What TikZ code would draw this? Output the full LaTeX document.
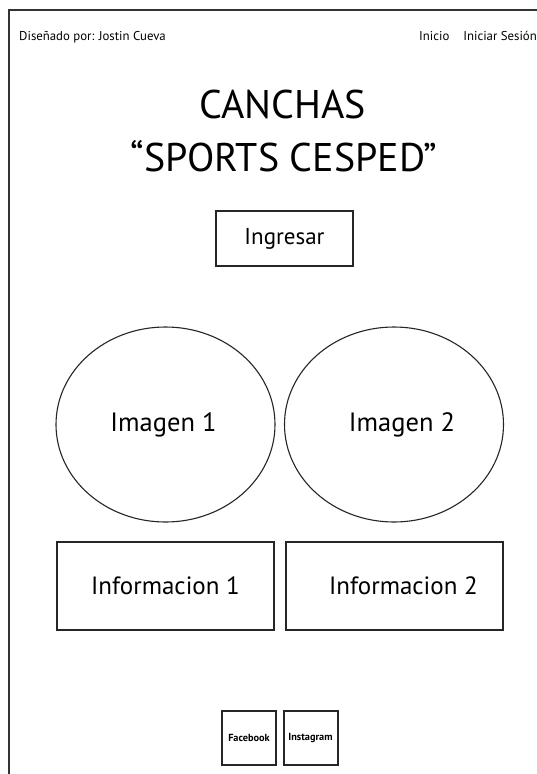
\documentclass[tikz,border=0pt]{standalone}
\usepackage{fontspec}
\setmainfont{PT Sans}
\usetikzlibrary{shapes.geometric}
\begin{document}
\begin{tikzpicture}[x=1pt,y=-1pt,
  frameline/.style={line width=1.5pt,draw=black!80},
  boxnode/.style={draw=black!85,line width=1.3pt,rectangle,inner sep=0pt},
  imgnode/.style={draw=black!85,line width=1.1pt,ellipse,inner sep=0pt,minimum width=219pt,minimum height=195pt,font=\fontsize{26.5}{30}\selectfont},
  infonode/.style={boxnode,minimum width=217pt,minimum height=88pt,font=\fontsize{25}{30}\selectfont},
  socialnode/.style={boxnode,line width=2pt,minimum width=54pt,minimum height=54pt,font=\bfseries\fontsize{10.3}{12}\selectfont},
  headtext/.style={inner sep=0pt,font=\fontsize{12.8}{14}\selectfont},
  titletext/.style={inner sep=0pt,font=\fontsize{40}{46}\selectfont}
]
\useasboundingbox[fill=white] (0,0) rectangle (537,774);
% outer frame
\coordinate (tr) at (537,10);
\coordinate (tl) at (9,10);
\coordinate (bl) at (9,774);
\draw[frameline] (tr) -- (tl) -- (bl);
% header
\node[headtext,anchor=base west] (autor) at (19,40) {Diseñado por: Jostin Cueva};
\node[headtext,anchor=base west] (inicio) at (419,40) {Inicio};
\node[headtext,anchor=base east] (sesion) at (537,40) {Iniciar Sesión};
% title
\node[titletext,anchor=base] (t1) at (283,118) {CANCHAS};
\node[titletext,anchor=base] (t2) at (284,171) {“SPORTS CESPED”};
% ingresar
\node[boxnode,minimum width=137pt,minimum height=55pt,font=\fontsize{23}{27}\selectfont] (ingresar) at (284.5,238.5) {Ingresar};
% images
\node[imgnode] (img1) at (165.5,424.5) {\hspace{-4pt}Imagen 1};
\node[imgnode] (img2) at (394,424.5) {\hspace{16pt}Imagen 2};
% info
\node[infonode] (info1) at (165.5,586) {Informacion 1};
\node[infonode] (info2) at (394.5,586) {\hspace{18pt}Informacion 2};
% social
\node[socialnode] (fb) at (249,738) {Facebook};
\node[socialnode] (ig) at (310.5,738) {Instagram};
\end{tikzpicture}
\end{document}
